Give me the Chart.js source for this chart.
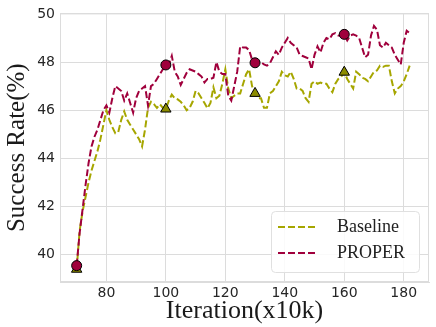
<!DOCTYPE html>
<html>
<head>
<meta charset="utf-8">
<script src="https://cdn.jsdelivr.net/npm/chart.js@4.4.1/dist/chart.umd.min.js"></script>
<style>
  html, body { margin: 0; padding: 0; background: #fff; }
  #wrap { width: 436px; height: 327px; }
</style>
</head>
<body>
<div id="wrap"><canvas id="success-chart" width="436" height="327"></canvas></div>
<script>
// iteration (x10k)
const iterations = [
  70, 71, 72, 73, 74, 75, 76, 77, 78, 79,
  80, 81, 82, 83, 84, 85, 86, 87, 88, 89,
  90, 91, 92, 93, 94, 95, 96, 97, 98, 99,
  100, 101, 102, 103, 104, 105, 106, 107, 108, 109,
  110, 111, 112, 113, 114, 115, 116, 117, 118, 119,
  120, 121, 122, 123, 124, 125, 126, 127, 128, 129,
  130, 131, 132, 133, 134, 135, 136, 137, 138, 139,
  140, 141, 142, 143, 144, 145, 146, 147, 148, 149,
  150, 151, 152, 153, 154, 155, 156, 157, 158, 159,
  160, 161, 162, 163, 164, 165, 166, 167, 168, 169,
  170, 171, 172, 173, 174, 175, 176, 177, 178, 179,
  180, 181, 182
];

const baseline = [
  39.4, 41.0, 41.8, 42.4, 43.0, 43.5, 43.9, 44.3, 44.8, 45.4,
  46.0, 45.6, 45.3, 45.05, 45.1, 45.6, 45.95, 45.6, 45.4, 45.2,
  45.0, 44.8, 44.5, 45.2, 46.1, 46.35, 46.25, 46.1, 46.25, 46.1,
  46.05, 46.4, 46.65, 46.5, 46.45, 46.35, 46.2, 46.0, 46.1, 46.35,
  46.8, 46.7, 46.5, 46.3, 46.08, 46.3, 46.95, 46.5, 46.6, 47.1,
  47.7, 46.9, 46.5, 46.6, 46.7, 46.7, 47.1, 47.5, 47.7, 47.0,
  46.7, 46.5, 46.5, 46.1, 46.1, 46.7, 46.8, 47.0, 47.2, 47.6,
  47.45, 47.4, 47.6, 47.3, 46.9, 46.9, 46.8, 46.5, 46.35, 47.1,
  47.2, 47.1, 47.15, 47.1, 47.1, 46.9, 46.75, 47.1, 47.3, 47.4,
  47.58, 47.3, 47.1, 46.9, 47.6, 47.5, 47.35, 47.3, 47.2, 47.4,
  47.6, 47.65, 47.85, 47.8, 47.85, 47.85, 47.2, 46.7, 46.9, 47.0,
  47.2, 47.5, 47.85
];

const proper = [
  39.55, 40.9, 41.9, 42.9, 43.8, 44.5, 44.9, 45.2, 45.6, 46.0,
  46.2, 45.9, 46.5, 47.0, 46.9, 46.8, 46.4, 46.7, 46.3, 45.9,
  46.5, 46.8, 46.9, 47.0, 46.2, 47.0, 47.1, 47.3, 47.5, 47.7,
  47.88, 47.9, 48.26, 47.6, 47.4, 47.05, 47.3, 47.55, 47.7, 47.65,
  47.6, 47.5, 47.4, 47.15, 47.3, 47.3, 47.35, 48.0, 47.6, 47.5,
  47.5, 46.6, 46.4, 47.0, 47.6, 48.65, 48.6, 48.6, 48.5, 48.1,
  47.97, 48.0, 48.0, 47.9, 47.85, 47.95, 48.2, 48.45, 48.3, 48.6,
  48.8, 49.0, 48.8, 48.7, 48.6, 48.3, 48.25, 48.2, 48.15, 47.7,
  48.3, 48.65, 48.4, 48.8, 49.0, 48.95, 49.15, 49.2, 49.1, 49.1,
  49.15, 48.9, 49.1, 49.15, 49.1, 49.0, 48.6, 48.2, 48.3, 49.1,
  49.5, 49.35, 48.7, 48.6, 48.8, 48.7, 48.6, 48.3, 48.1, 47.9,
  48.8, 49.3, 49.2
];

// iterations that get a marker
const markerIters = [70, 100, 130, 160];

const xTicks = [80, 100, 120, 140, 160, 180];
const yTicks = [40, 42, 44, 46, 48, 50];

const baseColor = '#a6a600';
const baseMarker = '#8c8c00';
const properColor = '#a0003c';

const toPoints = (ys) => iterations.map((x, i) => ({ x: x, y: ys[i] }));
const markerRadius = (r) => (ctx) => markerIters.includes(iterations[ctx.dataIndex]) ? r : 0;

// frame round the plot and the legend box in the lower right
const frameAndLegend = {
  id: 'frameAndLegend',
  afterDraw(chart) {
    const { ctx, chartArea: a } = chart;
    ctx.save();
    ctx.strokeStyle = '#dcdcdc';
    ctx.lineWidth = 1;
    ctx.strokeRect(a.left + 0.5, a.top + 0.5, a.right - a.left - 1, a.bottom - a.top - 1);

    const w = 148, h = 61;
    const bx = a.right - 10 - w, by = a.bottom - 10 - h;
    ctx.beginPath();
    ctx.roundRect(bx + 0.5, by + 0.5, w, h, 4);
    ctx.fillStyle = 'rgba(255,255,255,0.85)';
    ctx.fill();
    ctx.strokeStyle = '#e0e0e0';
    ctx.stroke();

    const rows = [
      { label: 'Baseline', color: baseColor },
      { label: 'PROPER', color: properColor }
    ];
    ctx.font = '18px "Liberation Serif"';
    ctx.textBaseline = 'middle';
    rows.forEach((r, i) => {
      const y = by + 16 + i * 26;
      ctx.beginPath();
      ctx.setLineDash([7, 3]);
      ctx.lineWidth = 2;
      ctx.strokeStyle = r.color;
      ctx.moveTo(bx + 7, y);
      ctx.lineTo(bx + 47, y);
      ctx.stroke();
      ctx.setLineDash([]);
      ctx.fillStyle = '#222';
      ctx.fillText(r.label, bx + 66, y);
    });
    ctx.restore();
  }
};

const ctx = document.getElementById('success-chart').getContext('2d');
new Chart(ctx, {
  type: 'line',
  data: {
    datasets: [
      {
        label: 'Baseline',
        data: toPoints(baseline),
        borderColor: baseColor,
        borderWidth: 2,
        borderDash: [7, 3],
        pointStyle: 'triangle',
        pointRadius: markerRadius(6),
        pointBackgroundColor: baseMarker,
        pointBorderColor: '#000',
        pointBorderWidth: 1,
        tension: 0,
        order: 2
      },
      {
        label: 'PROPER',
        data: toPoints(proper),
        borderColor: properColor,
        borderWidth: 2,
        borderDash: [7, 3],
        pointStyle: 'circle',
        pointRadius: markerRadius(5),
        pointBackgroundColor: properColor,
        pointBorderColor: '#000',
        pointBorderWidth: 1,
        tension: 0,
        order: 1
      }
    ]
  },
  options: {
    responsive: false,
    animation: false,
    layout: { padding: { top: 7, right: 3, bottom: 0, left: 0 } },
    plugins: {
      legend: { display: false },
      tooltip: { enabled: false }
    },
    scales: {
      x: {
        type: 'linear',
        min: 64.4,
        max: 188.5,
        afterBuildTicks: (axis) => { axis.ticks = xTicks.map(v => ({ value: v })); },
        afterFit: (axis) => { axis.height = 45; },
        grid: { color: '#dcdcdc', drawTicks: false },
        border: { color: '#dcdcdc' },
        ticks: { padding: 3, color: '#262626', font: { family: 'DejaVu Sans', size: 14 } },
        title: {
          display: true,
          text: 'Iteration(x10k)',
          color: '#1a1a1a',
          padding: { top: 0, bottom: 0 },
          font: { family: 'Liberation Serif', size: 26 }
        }
      },
      y: {
        min: 38.87,
        max: 50.02,
        afterBuildTicks: (axis) => { axis.ticks = yTicks.map(v => ({ value: v })); },
        afterFit: (axis) => { axis.width = 60; },
        grid: { color: '#dcdcdc', drawTicks: false },
        border: { color: '#dcdcdc' },
        ticks: { padding: 5, color: '#262626', font: { family: 'DejaVu Sans', size: 14 } },
        title: {
          display: true,
          text: 'Success Rate(%)',
          color: '#1a1a1a',
          padding: { top: 2, bottom: 0 },
          font: { family: 'Liberation Serif', size: 25 }
        }
      }
    }
  },
  plugins: [frameAndLegend]
});
</script>
</body>
</html>
